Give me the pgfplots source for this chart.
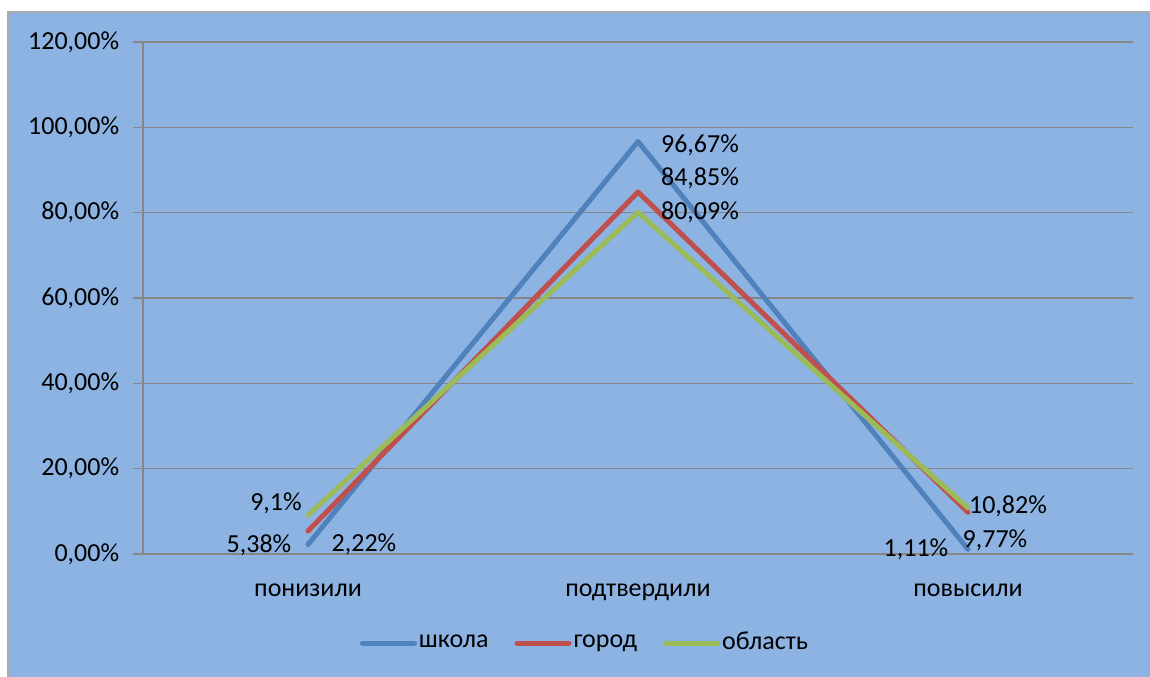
\documentclass[border=0pt]{standalone}
\usepackage{fontspec}
\setmainfont{Carlito}
\usepackage{pgfplots}
\usepackage{pgfplotstable}
\pgfplotsset{compat=1.18}
\definecolor{bg}{RGB}{141,179,226}
\definecolor{gridc}{RGB}{134,134,134}
\definecolor{cblue}{RGB}{79,129,189}
\definecolor{cred}{RGB}{192,80,77}
\definecolor{cgreen}{RGB}{155,187,89}

\pgfplotstableread{
x y dx dy
0 2.22 56 0
1 96.67 62 -4
2 1.11 -52 0
}\tschool
\pgfplotstableread{
x y dx dy
0 5.38 -49 -14
1 84.85 62 14
2 9.77 27 -28
}\tcity
\pgfplotstableread{
x y dx dy
0 9.1 -32 12
1 80.09 62 0
2 10.82 40 2
}\tregion

\begin{document}
\fontsize{26bp}{31bp}\selectfont
\begin{tikzpicture}[font=\fontsize{26bp}{31bp}\selectfont]
\fill[white] (-143bp,-123bp) rectangle (1007bp,554bp);
\fill[bg] (-135bp,-123bp) rectangle (1007bp,542bp);
\draw[gridc!70, line width=1.5bp] (-135bp,-123bp) -- (-135bp,542bp) -- (1007bp,542bp);
\begin{axis}[
  scale only axis,
  width=990bp, height=512bp,
  xmin=-0.5, xmax=2.5,
  ymin=0, ymax=120,
  ytick={0,20,...,120},
  xtick={0,1,2},
  xticklabels={понизили,подтвердили,повысили},
  extra x ticks={-0.5,0.5,1.5,2.5},
  extra x tick labels={},
  extra x tick style={major tick length=8bp, tick style={draw=gridc, line width=1.2bp}},
  xtick style={draw=none},
  ytick style={draw=gridc, line width=1.2bp},
  major tick length=10bp,
  tick align=outside,
  axis lines*=left,
  axis line style={draw=gridc, line width=1.2bp},
  ymajorgrids,
  grid style={draw=gridc, line width=1.2bp},
  /pgf/number format/assume math mode=true,
  yticklabel={\pgfmathprintnumber[fixed,fixed zerofill,precision=2,use comma]{\tick}\%},
  yticklabel style={xshift=-5bp},
  xticklabel style={yshift=-11bp},
  tick label style={font=\fontsize{26bp}{31bp}\selectfont},
  legend style={at={(0.4465,-0.174)}, anchor=center, draw=none, fill=none,
    legend columns=-1, font=\fontsize{26bp}{31bp}\selectfont,
    /tikz/every even column/.append style={column sep=24bp}},
  legend image code/.code={\draw[#1, line width=5bp, line cap=round] (0bp,0bp) -- (52bp,0bp);},
  every axis plot/.append style={line width=5bp, line cap=round, line join=round, mark=none},
  point meta=y,
  nodes near coords={\pgfmathprintnumber[fixed,precision=2,use comma]{\pgfplotspointmeta}\%},
  visualization depends on={\thisrow{dx}\as\dx},
  visualization depends on={\thisrow{dy}\as\dy},
  nodes near coords style={anchor=center, xshift=\dx bp, yshift=\dy bp, text=black, font=\fontsize{26bp}{31bp}\selectfont},
]
\addplot[cblue] table[x=x,y=y] {\tschool};
\addlegendentry{школа}
\addplot[cred] table[x=x,y=y] {\tcity};
\addlegendentry{город}
\addplot[cgreen] table[x=x,y=y] {\tregion};
\addlegendentry{область}
\end{axis}
\pgfresetboundingbox
\path[use as bounding box] (-143bp,-123bp) rectangle (1007bp,554bp);
\end{tikzpicture}
\end{document}
